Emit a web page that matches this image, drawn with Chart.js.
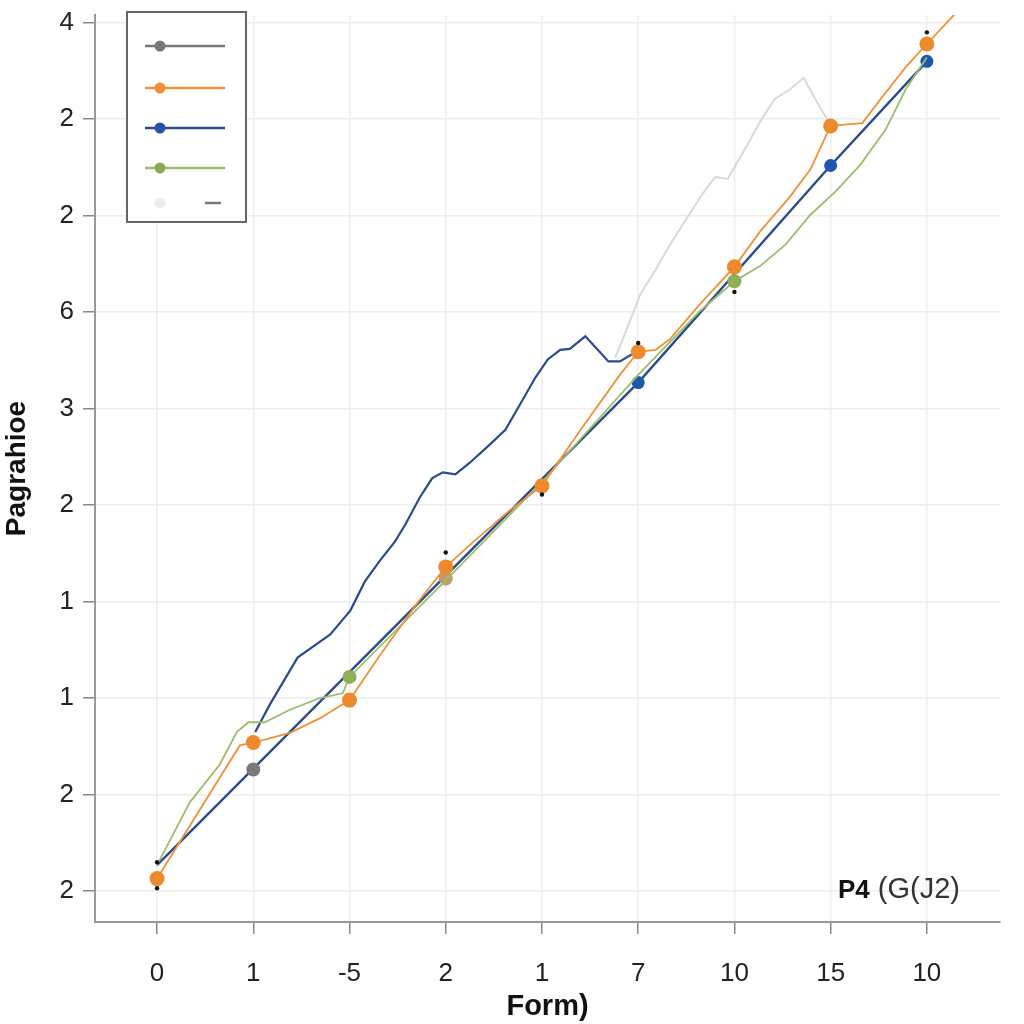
<!DOCTYPE html>
<html lang="en">

<head>
    <meta charset="UTF-8">
    <title>Form)</title>
    <script src="https://cdn.jsdelivr.net/npm/chart.js"></script>
    <style>
        body { margin: 0; background: #fff; }
    </style>
</head>

<body>
    <canvas id="myChart" width="1024" height="1024"></canvas>
    <script>
        // tick labels as printed on the picture
        const xTickLabels = ['0', '1', '-5', '2', '1', '7', '10', '15', '10'];
        const yTickLabels = ['2', '2', '1', '1', '2', '3', '6', '2', '2', '4']; // bottom -> top

        // orange series
        const orangeX = [0, 0.86, 1, 1.12, 1.38, 1.69, 2, 2.32, 2.73, 3, 3.31, 3.67, 4, 4.4, 4.81, 5, 5.18, 5.33, 5.64, 6, 6.27, 6.58, 6.79, 7, 7.33, 7.52, 7.78, 8, 8.3];
        const orangeY = [0.13, 1.51, 1.54, 1.57, 1.64, 1.79, 1.98, 2.45, 3.02, 3.36, 3.64, 3.95, 4.2, 4.78, 5.35, 5.59, 5.61, 5.72, 6.08, 6.47, 6.84, 7.2, 7.48, 7.93, 7.96, 8.21, 8.54, 8.78, 9.1];

        // green series
        const greenX = [0, 0.34, 0.65, 0.83, 0.95, 1.12, 1.38, 1.69, 1.93, 2, 3, 4, 5, 5.64, 6, 6.27, 6.53, 6.79, 7.05, 7.31, 7.57, 7.78, 8];
        const greenY = [0.27, 0.92, 1.31, 1.65, 1.75, 1.75, 1.88, 2.0, 2.05, 2.22, 3.22, 4.24, 5.35, 6.01, 6.32, 6.48, 6.7, 7.01, 7.25, 7.53, 7.89, 8.31, 8.64];

        // blue series (straight part + wiggly part)
        const blueX = [0, 5, 7, 8];
        const blueY = [0.27, 5.27, 7.52, 8.6];
        const blueTrailX = [1.02, 1.17, 1.46, 1.8, 2.01, 2.16, 2.32, 2.47, 2.58, 2.73, 2.86, 2.97, 3.1, 3.25, 3.46, 3.62, 3.77, 3.93, 4.06, 4.19, 4.29, 4.45, 4.58, 4.69, 4.81, 4.98];
        const blueTrailY = [1.65, 1.93, 2.42, 2.66, 2.91, 3.21, 3.43, 3.62, 3.8, 4.08, 4.28, 4.34, 4.32, 4.44, 4.63, 4.78, 5.04, 5.32, 5.51, 5.61, 5.62, 5.75, 5.61, 5.49, 5.49, 5.59];

        // grey series (only its markers show)
        const greyX = [1, 3];
        const greyY = [1.26, 3.24];

        // light grey series
        const lightX = [4.76, 4.86, 5.02, 5.18, 5.33, 5.54, 5.7, 5.8, 5.93, 6.11, 6.27, 6.42, 6.58, 6.72, 6.84, 6.99];
        const lightY = [5.53, 5.77, 6.18, 6.44, 6.7, 7.03, 7.27, 7.4, 7.38, 7.69, 7.98, 8.21, 8.31, 8.43, 8.21, 7.95];

        // tiny black dots
        const dotX = [0, 0, 3, 4, 5, 6, 8];
        const dotY = [0.3, 0.03, 3.51, 4.11, 5.68, 6.21, 8.9];

        const pts = (xs, ys) => xs.map((x, i) => ({ x: x, y: ys[i] }));
        const radii = (xs, marks, r) => xs.map(x => marks.includes(x) ? r : 0);

        const FONT = '"Liberation Sans", Arial, sans-serif';

        // legend box drawn inside the plot
        const boxLegend = {
            id: 'boxLegend',
            afterDraw(chart) {
                const c = chart.ctx;
                const a = chart.chartArea;
                const x0 = a.left + 32, y0 = a.top - 3;
                c.save();
                c.fillStyle = '#fff';
                c.fillRect(x0, y0, 119, 210);
                c.strokeStyle = '#666';
                c.lineWidth = 2;
                c.strokeRect(x0, y0, 119, 210);
                const rows = [34, 76, 116, 156, 191];
                const items = chart.data.datasets.filter(d => d.inLegend);
                items.forEach((d, i) => {
                    const y = y0 + rows[i];
                    c.strokeStyle = d.legendLine || d.borderColor;
                    c.lineWidth = 2.5;
                    c.beginPath();
                    if (d.legendDash) {
                        c.moveTo(x0 + 78, y); c.lineTo(x0 + 94, y);
                    } else {
                        c.moveTo(x0 + 18, y); c.lineTo(x0 + 98, y);
                    }
                    c.stroke();
                    c.fillStyle = d.legendDot || d.borderColor;
                    c.beginPath();
                    c.arc(x0 + 33, y, 5.5, 0, Math.PI * 2);
                    c.fill();
                });
                c.restore();
            }
        };

        // "P4 (G(J2)" note bottom right
        const cornerNote = {
            id: 'cornerNote',
            afterDraw(chart) {
                const c = chart.ctx;
                c.save();
                c.textBaseline = 'alphabetic';
                c.fillStyle = '#111';
                c.font = 'bold 26px ' + FONT;
                c.fillText('P4', 838, 898);
                const w = c.measureText('P4').width;
                c.fillStyle = '#333';
                c.font = '29px ' + FONT;
                c.fillText('(G(J2)', 838 + w + 8, 898);
                c.restore();
            }
        };

        const data = {
            datasets: [
                {
                    label: 'dots', data: pts(dotX, dotY), showLine: false,
                    pointRadius: 2.2, pointBackgroundColor: '#111', pointBorderWidth: 0, order: 0
                },
                {
                    label: 'grey', inLegend: true, data: pts(greyX, greyY), showLine: false,
                    borderColor: '#777777', pointRadius: 7,
                    pointBackgroundColor: ['#7a7a7a', '#c49a6c'], pointBorderWidth: 0, order: 3
                },
                {
                    label: 'orange', inLegend: true, data: pts(orangeX, orangeY),
                    borderColor: '#f0913a', borderWidth: 1.8,
                    pointRadius: radii(orangeX, [0, 1, 2, 3, 4, 5, 6, 7, 8], 7.5),
                    pointBackgroundColor: '#ee8a2e', pointBorderWidth: 0, order: 1
                },
                {
                    label: 'blue', inLegend: true, data: pts(blueX, blueY),
                    borderColor: '#2b4c8c', borderWidth: 2.4, legendDot: '#1f54a8',
                    pointRadius: radii(blueX, [5, 7, 8], 6.5),
                    pointBackgroundColor: '#1f57b0', pointBorderWidth: 0, order: 4
                },
                {
                    label: 'green', inLegend: true, data: pts(greenX, greenY),
                    borderColor: '#9cbd6a', borderWidth: 1.8, legendDot: '#8aaa55',
                    pointRadius: radii(greenX, [2, 6], 7),
                    pointBackgroundColor: '#8fae55', pointBorderWidth: 0, order: 2
                },
                {
                    label: 'light', inLegend: true, data: pts(lightX, lightY),
                    borderColor: '#d9d9d9', borderWidth: 2, pointRadius: 0,
                    legendDot: '#eeeeee', legendLine: '#777', legendDash: true, order: 6
                },
                {
                    label: 'blueTrail', data: pts(blueTrailX, blueTrailY),
                    borderColor: '#2b4c8c', borderWidth: 2.2, pointRadius: 0, order: 5
                }
            ]
        };

        const config = {
            type: 'line',
            data: data,
            options: {
                responsive: false,
                animation: false,
                layout: { padding: { left: 0, right: 24, top: 15, bottom: 0 } },
                plugins: {
                    legend: { display: false },
                    tooltip: { enabled: false }
                },
                scales: {
                    x: {
                        type: 'linear',
                        min: -0.645,
                        max: 8.76,
                        afterBuildTicks: axis => { axis.ticks = xTickLabels.map((_, i) => ({ value: i })); },
                        afterFit: axis => { axis.height = 102; axis.paddingLeft = 0; axis.paddingRight = 0; },
                        ticks: {
                            callback: (v, i) => xTickLabels[i],
                            font: { family: FONT, size: 26 },
                            color: '#222',
                            padding: 24,
                            maxRotation: 0
                        },
                        grid: { color: '#ededed', lineWidth: 1.5, tickColor: '#888', tickLength: 12, tickWidth: 1.5 },
                        border: { color: '#999', width: 2 },
                        title: {
                            display: true,
                            text: 'Form)',
                            font: { family: FONT, size: 29, weight: 'bold' },
                            color: '#111',
                            padding: { top: 0, bottom: 0 }
                        }
                    },
                    y: {
                        type: 'linear',
                        min: -0.32,
                        max: 9.08,
                        afterBuildTicks: axis => { axis.ticks = yTickLabels.map((_, i) => ({ value: i })); },
                        afterFit: axis => { axis.width = 95; axis.paddingTop = 0; axis.paddingBottom = 0; },
                        ticks: {
                            callback: (v, i) => yTickLabels[i],
                            font: { family: FONT, size: 26 },
                            color: '#222',
                            padding: 9
                        },
                        grid: { color: '#ededed', lineWidth: 1.5, tickColor: '#888', tickLength: 12, tickWidth: 1.5 },
                        border: { color: '#999', width: 2 },
                        title: {
                            display: true,
                            text: 'Pagrahioe',
                            font: { family: FONT, size: 28, weight: 'bold' },
                            color: '#111',
                            padding: { top: 0, bottom: 0 }
                        }
                    }
                }
            },
            plugins: [boxLegend, cornerNote]
        };

        const ctx = document.querySelector('#myChart').getContext('2d');
        const myChart = new Chart(ctx, config);
    </script>
</body>

</html>
